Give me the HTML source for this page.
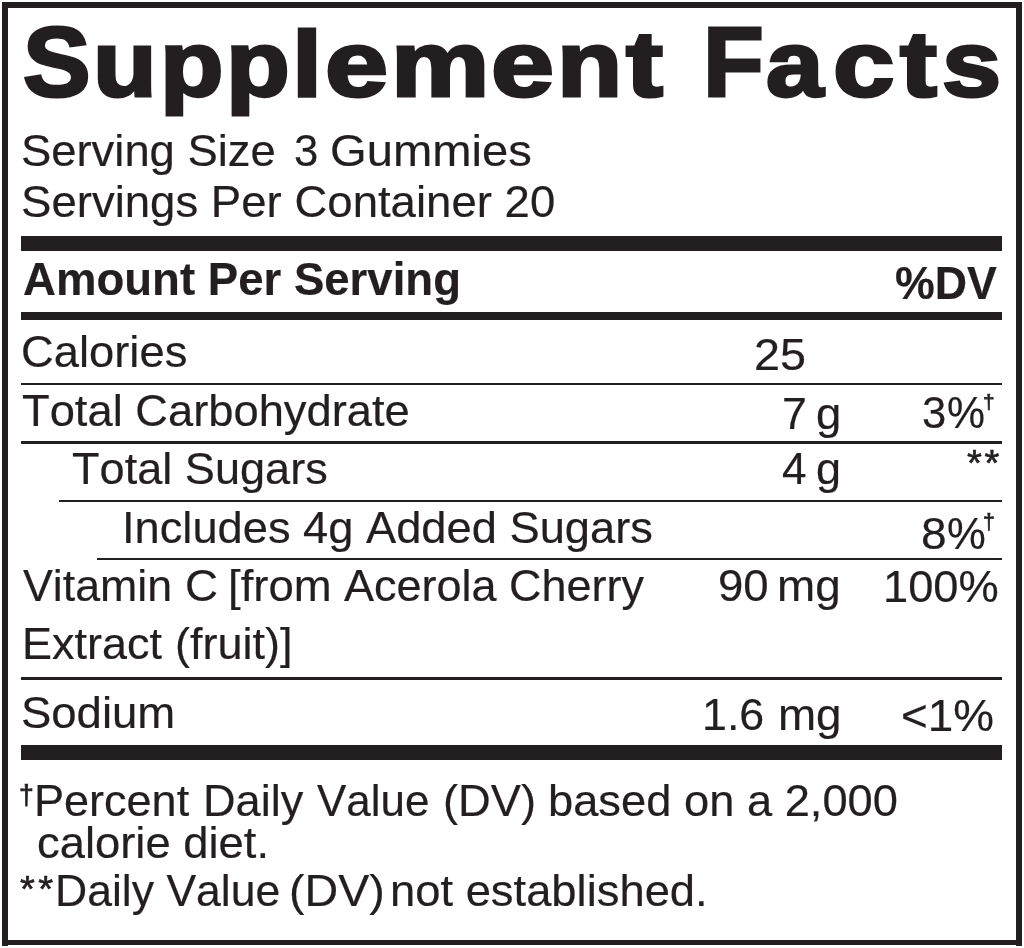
<!DOCTYPE html>
<html><head><meta charset="utf-8"><title>Supplement Facts</title>
<style>
html,body{margin:0;padding:0;background:#fff;}
body{width:1024px;height:948px;position:relative;overflow:hidden;font-family:"Liberation Sans",sans-serif;color:#231f20;}
.r{position:absolute;background:#231f20;}
.t{position:absolute;white-space:pre;line-height:1;transform-origin:0 0;font-kerning:none;-webkit-text-stroke:0.2px #231f20;}
.b{font-weight:bold;}
#w{position:absolute;left:0;top:0;width:1024px;height:948px;will-change:transform;}
</style></head><body><div id="w">
<div class="r" style="left:2px;top:2px;width:1020px;height:5.5px"></div>
<div class="r" style="left:2px;top:939.7px;width:1020px;height:5.8px"></div>
<div class="r" style="left:2px;top:2px;width:6.3px;height:943.5px"></div>
<div class="r" style="left:1015.9px;top:2px;width:6.4px;height:943.5px"></div>
<div class="r" style="left:20.7px;top:235.8px;width:981px;height:15.4px"></div>
<div class="r" style="left:20.7px;top:311.8px;width:981px;height:8.2px"></div>
<div class="r" style="left:20.7px;top:744.7px;width:980.9px;height:15.5px"></div>
<div class="r" style="left:20.5px;top:382.5px;width:981.3px;height:2.6px"></div>
<div class="r" style="left:20.5px;top:441px;width:981.3px;height:2.6px"></div>
<div class="r" style="left:59.1px;top:499.55px;width:942.7px;height:2.6px"></div>
<div class="r" style="left:97px;top:557.75px;width:904.8px;height:2.6px"></div>
<div class="r" style="left:20.5px;top:677.1px;width:981.3px;height:2.6px"></div>
<div id="T0" class="t b" style="left:22.50px;top:13.10px;font-size:98.5px;transform:scaleX(1.0289);-webkit-text-stroke:3px #231f20;">S</div>
<div id="T1" class="t b" style="left:93.00px;top:18.18px;font-size:92.5px;transform:scaleX(1.1275);-webkit-text-stroke:3px #231f20;">u</div>
<div id="T2" class="t b" style="left:159.50px;top:18.18px;font-size:92.5px;transform:scaleX(1.1237);-webkit-text-stroke:3px #231f20;">p</div>
<div id="T3" class="t b" style="left:226.00px;top:18.18px;font-size:92.5px;transform:scaleX(1.1293);-webkit-text-stroke:3px #231f20;">p</div>
<div id="T4" class="t b" style="left:292.00px;top:18.18px;font-size:92.5px;transform:scaleX(1.1685);-webkit-text-stroke:3px #231f20;">l</div>
<div id="T5" class="t b" style="left:324.50px;top:18.18px;font-size:92.5px;transform:scaleX(1.2268);-webkit-text-stroke:3px #231f20;">e</div>
<div id="T6" class="t b" style="left:391.25px;top:18.18px;font-size:92.5px;transform:scaleX(1.1965);-webkit-text-stroke:3px #231f20;">m</div>
<div id="T7" class="t b" style="left:490.50px;top:18.18px;font-size:92.5px;transform:scaleX(1.2258);-webkit-text-stroke:3px #231f20;">e</div>
<div id="T8" class="t b" style="left:556.50px;top:18.18px;font-size:92.5px;transform:scaleX(1.1545);-webkit-text-stroke:3px #231f20;">n</div>
<div id="T9" class="t b" style="left:626.00px;top:18.18px;font-size:92.5px;transform:scaleX(1.2010);-webkit-text-stroke:3px #231f20;">t</div>
<div id="T10" class="t b" style="left:702.50px;top:13.10px;font-size:98.5px;transform:scaleX(1.0088);-webkit-text-stroke:3px #231f20;">F</div>
<div id="T11" class="t b" style="left:766.25px;top:18.18px;font-size:92.5px;transform:scaleX(1.1176);-webkit-text-stroke:3px #231f20;">a</div>
<div id="T12" class="t b" style="left:833.00px;top:18.18px;font-size:92.5px;transform:scaleX(1.1946);-webkit-text-stroke:3px #231f20;">c</div>
<div id="T13" class="t b" style="left:900.00px;top:18.18px;font-size:92.5px;transform:scaleX(1.1996);-webkit-text-stroke:3px #231f20;">t</div>
<div id="T14" class="t b" style="left:942.00px;top:18.18px;font-size:92.5px;transform:scaleX(1.1510);-webkit-text-stroke:3px #231f20;">s</div>
<div id="s1" class="t" style="left:21.35px;top:128.40px;font-size:45px;transform:scaleX(1.0084);">Serving Size</div>
<div id="s2" class="t" style="left:293.80px;top:128.20px;font-size:45px;transform:scaleX(0.9731);">3</div>
<div id="s3" class="t" style="left:330.10px;top:128.20px;font-size:45px;transform:scaleX(1.0483);">Gummies</div>
<div id="s4" class="t" style="left:21.35px;top:179.00px;font-size:45px;transform:scaleX(1.0122);">Servings Per Container 20</div>
<div id="h1" class="t b" style="left:23.05px;top:256.13px;font-size:46.5px;transform:scaleX(0.9799);">Amount Per Serving</div>
<div id="h2" class="t b" style="left:894.70px;top:259.85px;font-size:46px;transform:scaleX(0.9719);">%DV</div>
<div id="r1a" class="t" style="left:21.20px;top:329.40px;font-size:45px;transform:scaleX(1.0075);">Calories</div>
<div id="r1b" class="t" style="left:753.90px;top:331.70px;font-size:45px;transform:scaleX(1.0385);">25</div>
<div id="r2a" class="t" style="left:21.70px;top:387.90px;font-size:45px;transform:scaleX(1.0066);">Total Carbohydrate</div>
<div id="r2b" class="t" style="left:782.45px;top:390.60px;font-size:45px;transform:scaleX(0.9953);">7</div>
<div id="r2c" class="t" style="left:816.20px;top:390.60px;font-size:45px;transform:scaleX(1.0100);">g</div>
<div id="r2d" class="t" style="left:922.40px;top:390.40px;font-size:45px;transform:scaleX(0.9705);">3</div>
<div id="r2e" class="t" style="left:947.25px;top:390.40px;font-size:45px;transform:scaleX(0.9489);">%</div>
<div id="r3a" class="t" style="left:72.30px;top:445.90px;font-size:45px;transform:scaleX(1.0024);">Total Sugars</div>
<div id="r3b" class="t" style="left:782.15px;top:446.10px;font-size:45px;transform:scaleX(0.9796);">4</div>
<div id="r3c" class="t" style="left:816.15px;top:446.10px;font-size:45px;transform:scaleX(1.0003);">g</div>
<div id="r4a" class="t" style="left:122.40px;top:504.70px;font-size:45px;transform:scaleX(1.0056);">Includes 4g Added Sugars</div>
<div id="r4d" class="t" style="left:920.90px;top:510.70px;font-size:45px;transform:scaleX(1.0255);">8</div>
<div id="r4e" class="t" style="left:947.20px;top:510.70px;font-size:45px;transform:scaleX(0.9700);">%</div>
<div id="r5a" class="t" style="left:23.00px;top:563.00px;font-size:45px;transform:scaleX(0.9940);">Vitamin</div>
<div id="r5a2" class="t" style="left:185.00px;top:563.00px;font-size:45px;transform:scaleX(1.0200);">C</div>
<div id="r5a3" class="t" style="left:227.65px;top:563.00px;font-size:45px;transform:scaleX(1.0110);">[from</div>
<div id="r5a4" class="t" style="left:344.00px;top:563.00px;font-size:45px;transform:scaleX(0.9997);">Acerola Cherry</div>
<div id="r5b" class="t" style="left:717.80px;top:562.80px;font-size:45px;transform:scaleX(1.0130);">90</div>
<div id="r5c" class="t" style="left:777.10px;top:562.80px;font-size:45px;transform:scaleX(1.0175);">mg</div>
<div id="r5d" class="t" style="left:883.15px;top:563.50px;font-size:45px;transform:scaleX(1.0063);">100%</div>
<div id="r6a" class="t" style="left:21.90px;top:620.70px;font-size:45px;transform:scaleX(0.9991);">Extract</div>
<div id="r6a2" class="t" style="left:175.00px;top:620.70px;font-size:45px;transform:scaleX(1.0007);">(fruit)]</div>
<div id="r7a" class="t" style="left:21.15px;top:689.90px;font-size:45px;transform:scaleX(1.0105);">Sodium</div>
<div id="r7b" class="t" style="left:702.45px;top:691.90px;font-size:45px;transform:scaleX(0.9942);">1.6</div>
<div id="r7c" class="t" style="left:777.50px;top:691.90px;font-size:45px;transform:scaleX(1.0166);">mg</div>
<div id="r7d" class="t" style="left:901.35px;top:692.90px;font-size:45px;transform:scaleX(1.0181);">&lt;1%</div>
<div id="d1" class="t" style="left:983.00px;top:390.52px;font-size:21px;transform:scaleX(0.9904);-webkit-text-stroke:0.7px #231f20;">†</div>
<div id="d2" class="t" style="left:982.75px;top:511.78px;font-size:21.4px;transform:scaleX(0.9954);-webkit-text-stroke:0.7px #231f20;">†</div>
<div id="d3" class="t" style="left:19.25px;top:781.74px;font-size:27px;transform:scaleX(0.9843);-webkit-text-stroke:0.75px #231f20;">†</div>
<div id="a1" class="t" style="left:967.00px;top:445.62px;font-size:36px;transform:scaleX(1.0600);-webkit-text-stroke:0.6px #231f20;letter-spacing:2.45px;">**</div>
<div id="a2" class="t" style="left:20.25px;top:872.02px;font-size:36px;transform:scaleX(1.0600);-webkit-text-stroke:0.6px #231f20;letter-spacing:3.10px;">**</div>
<div id="f1" class="t" style="left:33.60px;top:777.50px;font-size:45px;transform:scaleX(1.0005);">Percent</div>
<div id="f1x" class="t" style="left:202.50px;top:777.50px;font-size:45px;transform:scaleX(1.0032);">Daily</div>
<div id="f1y" class="t" style="left:316.75px;top:777.50px;font-size:45px;transform:scaleX(0.9762);">Value</div>
<div id="f1b" class="t" style="left:442.90px;top:777.50px;font-size:45px;transform:scaleX(1.0067);">(DV)</div>
<div id="f1c" class="t" style="left:548.15px;top:777.50px;font-size:45px;transform:scaleX(1.0062);">based on a 2,000</div>
<div id="f2" class="t" style="left:37.30px;top:819.60px;font-size:45px;transform:scaleX(1.0082);">calorie diet.</div>
<div id="f3" class="t" style="left:54.50px;top:868.40px;font-size:45px;transform:scaleX(0.9899);">Daily Value</div>
<div id="f3b" class="t" style="left:289.20px;top:868.40px;font-size:45px;transform:scaleX(1.0362);">(DV)</div>
<div id="f3c" class="t" style="left:390.00px;top:868.40px;font-size:45px;transform:scaleX(1.0078);">not established.</div>
</div></body></html>
